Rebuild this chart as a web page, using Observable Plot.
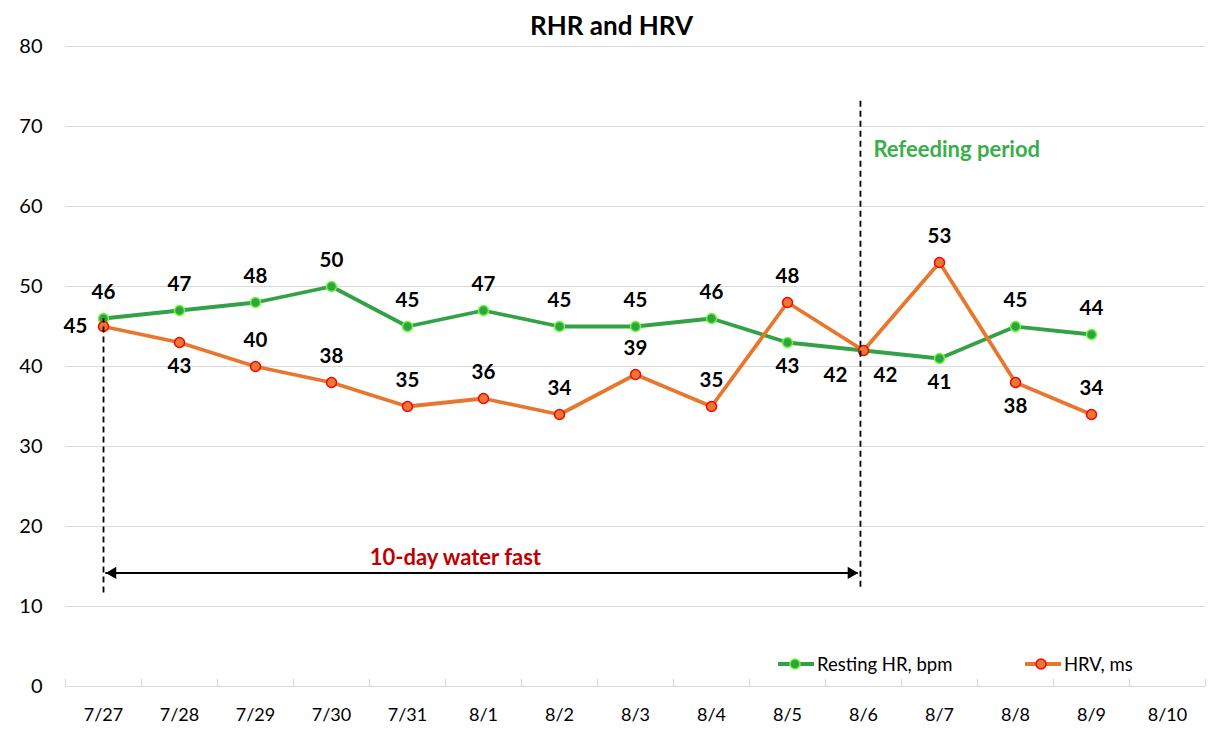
<!DOCTYPE html>
<html><head><meta charset="utf-8">
<script src="https://cdn.jsdelivr.net/npm/d3@7"></script>
<script src="https://cdn.jsdelivr.net/npm/@observablehq/plot@0.6"></script>
<style>
body{margin:0;background:#fff;font-family:Lato,"Noto Sans",sans-serif;}
#wrap{position:relative;width:1223px;height:734px;overflow:hidden;}
#title{position:absolute;top:10px;left:0;width:1223px;text-align:center;font-weight:bold;font-size:26px;line-height:30px;color:#000;}
#chart{position:absolute;top:26px;left:0;}
.leg{position:absolute;top:653px;height:22px;display:flex;align-items:center;font-size:18.5px;color:#000;}
.leg svg{margin-right:2px;}
</style></head><body>
<div id="wrap">
  <div id="title">RHR and HRV</div>
  <div id="chart"></div>
  <div class="leg" style="left:777px"><svg width="38" height="20"><line x1="1" y1="10" x2="37" y2="10" stroke="#33a246" stroke-width="4"/><circle cx="18" cy="10" r="5" fill="#33a246" stroke="#66ff33" stroke-width="1.5"/></svg>Resting HR, bpm</div>
  <div class="leg" style="left:1024px"><svg width="38" height="20"><line x1="1" y1="10" x2="37" y2="10" stroke="#e8772e" stroke-width="4"/><circle cx="17" cy="10" r="5" fill="#e47a36" stroke="#ff0000" stroke-width="1.5"/></svg>HRV, ms</div>
</div>
<script>
// ---- data ----
const dates = ["7/27","7/28","7/29","7/30","7/31","8/1","8/2","8/3","8/4","8/5","8/6","8/7","8/8","8/9","8/10"];
const rhr = [46,47,48,50,45,47,45,45,46,43,42,41,45,44];
const hrv = [45,43,40,38,35,36,34,39,35,48,42,53,38,34];
const yTicks = [0,10,20,30,40,50,60,70,80];
// label placement codes per point
const rhrPlace = ["above","above","above","above","above","above","above","above","above","below","belowLeft","below","above","above"];
const hrvPlace = ["left","below","above","above","above","above","above","above","above","above","belowRight","above","below","above"];
// annotations (in axis units: x = category index, y = value)
const fastStartLine = {x: 0, y1: 11.7, y2: 46};
const refeedLine = {x: 9.96, y1: 12.4, y2: 73.6};
const fastArrow = {x1: 0.03, x2: 9.93, y: 14.2};
const fastLabel = {x: 4.63, y: 16.1, text: "10-day water fast"};
const refeedLabel = {x: 10.13, y: 67.1, text: "Refeeding period"};

// ---- styles ----
const GREEN = "#33a246", GREEN_EDGE = "#66ff33";
const ORANGE = "#e8772e", ORANGE_FILL = "#e47a36", ORANGE_EDGE = "#ff0000";
const GRID = "#d9d9d9";
const offsets = {
  above: {dx: 0, dy: -26},
  below: {dx: 0, dy: 24},
  left: {dx: -28, dy: 0},
  belowLeft: {dx: -28, dy: 25},
  belowRight: {dx: 22, dy: 25}
};

const rows = (vals, place) => vals.map((v, i) => ({i, date: dates[i], v, place: place[i]}));
const G = rows(rhr, rhrPlace), O = rows(hrv, hrvPlace);
const boundaries = d3.range(dates.length + 1).map(i => i - 0.5);

function labelMarks(data) {
  return Object.entries(offsets).map(([k, o]) =>
    Plot.text(data.filter(d => d.place === k), {
      x: "i", y: "v", text: d => String(d.v), dx: o.dx, dy: o.dy,
      fontWeight: "bold", fontSize: 20.5, fill: "#000"
    }));
}

const chart = Plot.plot({
  width: 1223, height: 708,
  marginTop: 20, marginBottom: 48, marginLeft: 65, marginRight: 18,
  style: {fontFamily: "Lato, 'Noto Sans', sans-serif", fontSize: "20px", color: "#000", background: "transparent"},
  x: {type: "linear", domain: [-0.5, dates.length - 0.5], ticks: d3.range(dates.length), tickFormat: i => dates[i], tickSize: 0, tickPadding: 22, label: null},
  y: {domain: [0, 80], ticks: yTicks, tickSize: 0, tickPadding: 23, label: null},
  marks: [
    Plot.ruleY(yTicks.filter(t => t > 0), {stroke: GRID, strokeWidth: 1}),
    Plot.ruleY([0], {stroke: GRID, strokeWidth: 1.2}),
    Plot.ruleX(boundaries, {y1: 0, y2: 0.9, stroke: GRID, strokeWidth: 1.2}),
    // series
    Plot.line(G, {x: "i", y: "v", stroke: GREEN, strokeWidth: 3.8}),
    Plot.dot(G, {x: "i", y: "v", r: 5, fill: GREEN, stroke: GREEN_EDGE, strokeWidth: 1.5}),
    Plot.line(O, {x: "i", y: "v", stroke: ORANGE, strokeWidth: 3.8}),
    Plot.dot(O, {x: "i", y: "v", r: 5, fill: ORANGE_FILL, stroke: ORANGE_EDGE, strokeWidth: 1.5}),
    // annotations
    Plot.ruleX([fastStartLine, refeedLine], {x: "x", y1: "y1", y2: "y2", stroke: "#000", strokeWidth: 1.8, strokeDasharray: "6,4"}),
    Plot.ruleY([fastArrow], {x1: "x1", x2: "x2", y: "y", stroke: "#000", strokeWidth: 2}),
    Plot.dot([fastArrow], {x: "x1", y: "y", symbol: "triangle", r: 4.5, rotate: -90, dx: 7, fill: "#000", stroke: "none"}),
    Plot.dot([fastArrow], {x: "x2", y: "y", symbol: "triangle", r: 4.5, rotate: 90, dx: -7, fill: "#000", stroke: "none"}),
    Plot.text([fastLabel], {x: "x", y: "y", text: "text", fill: "#c00000", fontWeight: "bold", fontSize: 22}),
    Plot.text([refeedLabel], {x: "x", y: "y", text: "text", fill: "#3aae4a", fontWeight: "bold", fontSize: 22, textAnchor: "start"}),
    ...labelMarks(G),
    ...labelMarks(O)
  ]
});
chart.querySelectorAll("[aria-label='x-axis tick label'] text, [aria-label='x-axis tick label']").forEach(e => e.setAttribute("font-size", "18"));
document.getElementById("chart").appendChild(chart);
</script>
</body></html>
